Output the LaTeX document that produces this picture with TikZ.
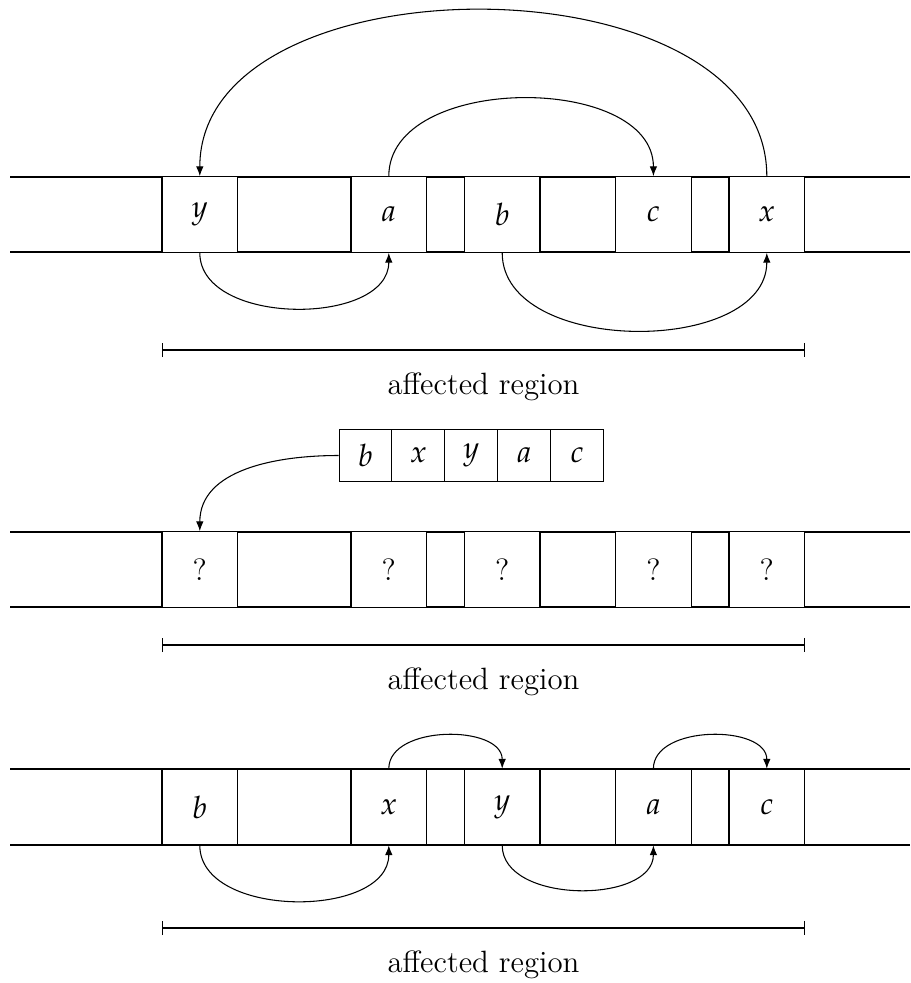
\documentclass[tikz,border=0pt]{standalone}
\usepackage{mathpazo}
\usetikzlibrary{arrows.meta}
\begin{document}
\begin{tikzpicture}[x=0.013228cm,y=-0.013228cm,
  every node/.style={font=\fontsize{11.6pt}{13.9pt}\selectfont},
  cell/.style={draw, minimum size=1cm, inner sep=0pt, fill=white},
  smallcell/.style={draw, minimum size=0.7cm, inner sep=0pt},
  link/.style={-{Latex[length=1.3mm,width=1mm]}},
  span/.style={{Bar[width=1.9mm]}-{Bar[width=1.9mm]}},
  lbl/.style={anchor=base}]
\useasboundingbox (0,0) rectangle (910,983);

% ---------- row 1 ----------
\coordinate (r1tl) at (10,177); \coordinate (r1tr) at (910,177);
\coordinate (r1bl) at (10,252); \coordinate (r1br) at (910,252);
\draw (r1tl) -- (r1tr);
\draw (r1bl) -- (r1br);
\node[cell] (y1) at (199.8,214.5) {$y$};
\node[cell] (a1) at (388.8,214.5) {$a$};
\node[cell] (b1) at (502.2,214.5) {$b$};
\node[cell] (c1) at (653.4,214.5) {$c$};
\node[cell] (x1) at (766.8,214.5) {$x$};
\draw[link] (y1.south) to[out=-90,in=-90] (a1.south);
\draw[link] (b1.south) to[out=-90,in=-90] (x1.south);
\draw[link] (a1.north) to[out=90,in=90] (c1.north);
\draw[link] (x1.north) to[out=90,in=90] (y1.north);
\coordinate (g1l) at (162,350); \coordinate (g1r) at (805,350);
\draw[span] (g1l) -- (g1r);
\node[lbl] (t1) at (483.5,394) {affected region};

% ---------- row 2 ----------
\node[smallcell] (s1) at (365.5,455.5) {$b$};
\node[smallcell] (s2) at (418.4,455.5) {$x$};
\node[smallcell] (s3) at (471.3,455.5) {$y$};
\node[smallcell] (s4) at (524.2,455.5) {$a$};
\node[smallcell] (s5) at (577.1,455.5) {$c$};
\coordinate (r2tl) at (10,532); \coordinate (r2tr) at (910,532);
\coordinate (r2bl) at (10,607); \coordinate (r2br) at (910,607);
\draw (r2tl) -- (r2tr);
\draw (r2bl) -- (r2br);
\node[cell] (q1) at (199.8,569.5) {?};
\node[cell] (q2) at (388.8,569.5) {?};
\node[cell] (q3) at (502.2,569.5) {?};
\node[cell] (q4) at (653.4,569.5) {?};
\node[cell] (q5) at (766.8,569.5) {?};
\draw[link] (s1.west) to[out=180,in=90] (q1.north);
\coordinate (g2l) at (162,645); \coordinate (g2r) at (805,645);
\draw[span] (g2l) -- (g2r);
\node[lbl] (t2) at (483.5,689) {affected region};

% ---------- row 3 ----------
\coordinate (r3tl) at (10,769); \coordinate (r3tr) at (910,769);
\coordinate (r3bl) at (10,845); \coordinate (r3br) at (910,845);
\draw (r3tl) -- (r3tr);
\draw (r3bl) -- (r3br);
\node[cell] (b3) at (199.8,807) {$b$};
\node[cell] (x3) at (388.8,807) {$x$};
\node[cell] (y3) at (502.2,807) {$y$};
\node[cell] (a3) at (653.4,807) {$a$};
\node[cell] (c3) at (766.8,807) {$c$};
\draw[link] (b3.south) to[out=-90,in=-90] (x3.south);
\draw[link] (y3.south) to[out=-90,in=-90] (a3.south);
\draw[link] (x3.north) to[out=90,in=90] (y3.north);
\draw[link] (a3.north) to[out=90,in=90] (c3.north);
\coordinate (g3l) at (162,928); \coordinate (g3r) at (805,928);
\draw[span] (g3l) -- (g3r);
\node[lbl] (t3) at (483.5,972) {affected region};
\end{tikzpicture}
\end{document}
